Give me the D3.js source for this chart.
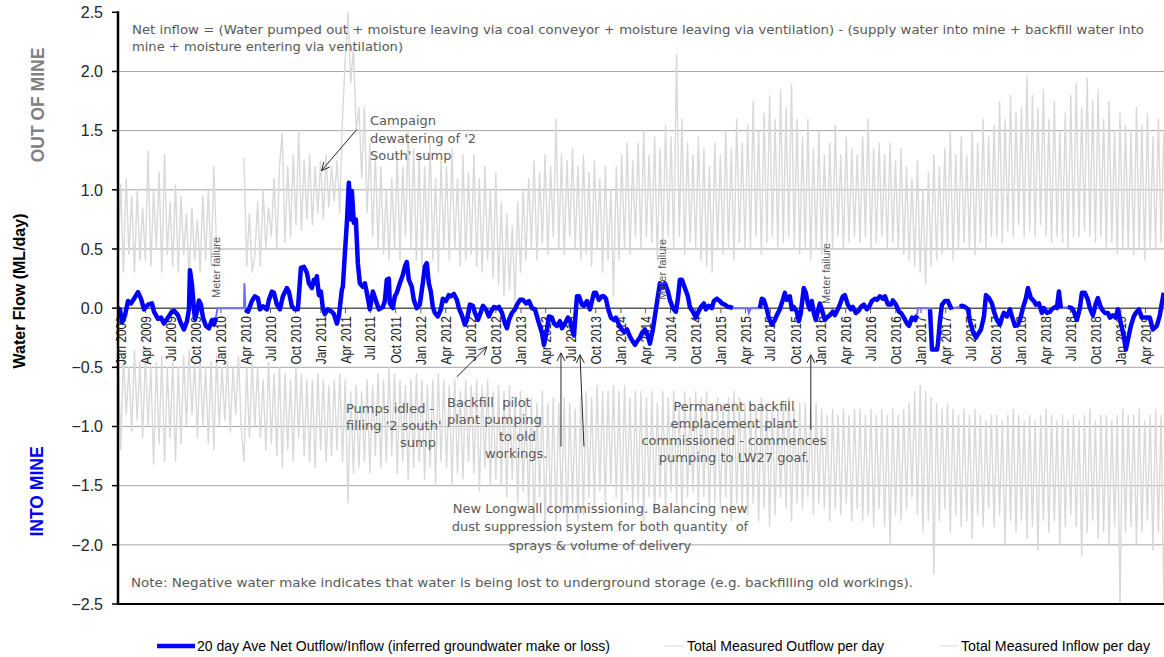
<!DOCTYPE html>
<html><head><meta charset="utf-8">
<script src="https://cdn.jsdelivr.net/npm/d3@7"></script>
<style>body{margin:0;background:#fff}svg{display:block}</style>
</head><body>
<svg id="chart" width="1164" height="657"></svg>
<script>
// ---------------- DATA ----------------
const yTickValues = [-2.5, -2.0, -1.5, -1.0, -0.5, 0.0, 0.5, 1.0, 1.5, 2.0, 2.5];
const xTickFirst = "2009-01-01";
const xTickLast = "2019-04-01";
const xTickMonths = 3;

// gray daily-measurement series, sampled every 10 days from the first date
const measuredStart = "2008-12-21";
const measuredStepDays = 10;
const outflowPerDay = [
 0.35,1.05,0.3,1.1,0.45,0.95,0.3,1.0,0.4,0.85,
 0.4,1.33,0.35,1.0,0.5,1.15,0.3,1.3,0.45,0.9,
 0.35,1.05,0.3,0.95,0.45,0.8,0.25,0.85,0.4,0.75,
 0.3,0.95,0.4,1.0,0.35,1.2,0.5,null,null,null,
 null,null,null,null,null,null,1.27,0.35,0.8,0.3,
 0.45,0.9,0.35,1.0,0.5,0.85,0.6,1.1,0.5,1.2,
 1.48,0.55,1.2,0.6,1.3,0.7,1.5,0.65,1.25,0.75,
 1.3,0.7,1.2,0.8,1.25,0.75,1.3,0.85,1.2,0.9,
 1.25,0.8,1.6,2.1,2.5,1.9,2.2,1.5,1.7,1.1,
 1.7,0.8,1.4,0.6,1.3,0.5,1.2,0.45,1.0,0.4,
 1.1,0.5,1.3,0.4,1.2,0.6,1.5,0.5,1.35,0.4,
 1.3,0.35,1.2,0.5,1.4,0.4,1.1,0.3,1.25,0.5,
 1.2,0.4,1.35,0.5,1.1,0.35,1.3,0.4,1.15,0.45,
 1.3,0.35,1.1,0.3,1.2,0.4,1.0,0.25,1.15,0.2,
 0.9,0.1,0.8,0.15,0.7,0.05,0.9,0.3,1.0,0.4,
 1.1,0.5,1.25,0.4,1.15,0.55,1.3,0.45,1.2,0.6,
 1.6,0.5,1.3,0.45,1.25,0.6,1.35,0.5,1.2,0.4,
 1.3,0.45,1.15,0.35,1.25,0.5,1.1,0.3,1.2,0.4,
 1.0,0.1,1.2,0.4,1.3,0.5,1.4,0.45,1.25,0.6,
 1.4,0.5,1.5,0.6,1.3,0.55,1.45,0.4,1.35,0.5,
 1.55,0.6,1.45,0.5,2.15,0.6,1.6,0.45,1.4,0.55,
 1.3,0.5,1.45,0.4,1.35,0.35,1.2,0.3,1.4,0.5,
 1.3,0.45,1.5,0.5,1.35,0.4,1.6,0.55,1.4,0.5,
 1.55,0.5,1.75,0.6,1.5,0.45,1.65,0.55,1.8,0.6,
 1.6,0.5,1.85,0.55,1.7,0.6,1.9,0.5,1.6,0.45,
 1.45,0.5,1.6,0.4,1.35,0.5,1.5,0.45,1.3,0.55,
 1.4,0.5,1.55,0.6,1.3,0.5,1.45,0.55,1.35,0.6,
 1.3,0.55,1.45,0.6,1.6,0.5,1.35,0.55,1.4,0.6,
 1.3,0.5,1.4,0.55,1.25,0.5,1.35,0.45,1.2,0.4,
 1.1,0.35,1.25,0.3,1.0,0.2,1.15,0.35,1.3,0.4,
 1.2,0.45,1.35,0.5,1.5,0.4,1.3,0.5,1.45,0.55,
 1.3,0.5,1.5,0.45,1.4,0.55,1.6,0.5,1.45,0.6,
 1.55,0.6,1.75,0.55,1.6,0.65,1.8,0.6,1.65,0.7,
 1.7,0.6,1.97,0.65,1.8,0.6,1.7,0.7,1.85,0.6,
 1.6,0.55,1.75,0.6,1.5,0.55,1.65,0.5,1.8,0.6,
 1.9,0.6,1.7,0.65,1.95,0.6,1.75,0.55,1.85,0.6,
 1.6,0.5,1.75,0.55,1.5,0.45,1.65,0.5,1.55,0.5,
 1.5,0.45,1.7,0.5,1.55,0.4,1.65,0.5,1.45,0.5,
 1.6,0.55,1.5,0.5
];
const inflowPerDay = [
 -0.3,-1.2,-0.4,-0.9,-0.5,-1.05,-0.35,-0.95,-0.45,-1.1,
 -0.4,-1.0,-0.5,-1.32,-0.45,-1.15,-0.4,-1.3,-0.5,-1.1,
 -0.45,-1.3,-0.5,-1.15,-0.4,-1.0,-0.35,-0.9,-0.45,-1.1,
 -0.4,-1.0,-0.5,-1.15,-0.45,-1.2,-0.4,-1.0,-0.5,-0.95,
 -0.45,-1.05,-0.5,-0.9,-0.4,-1.0,-1.3,-0.5,-1.1,-0.45,
 -1.0,-0.5,-1.1,-0.6,-1.2,-0.45,-1.15,-0.55,-1.25,-0.5,
 -1.35,-0.55,-1.2,-0.6,-1.3,-0.5,-1.1,-0.55,-1.25,-0.6,
 -1.3,-0.6,-1.35,-0.55,-1.2,-0.6,-1.3,-0.65,-1.25,-0.6,
 -1.2,-0.55,-1.3,-0.6,-1.65,-0.7,-1.4,-0.65,-1.35,-0.7,
 -1.3,-0.6,-1.4,-0.65,-1.25,-0.55,-1.35,-0.6,-1.3,-0.5,
 -1.25,-0.55,-1.4,-0.6,-1.3,-0.65,-1.45,-0.6,-1.35,-0.55,
 -1.3,-0.6,-1.45,-0.65,-1.35,-0.6,-1.5,-0.55,-1.3,-0.6,
 -1.35,-0.65,-1.5,-0.6,-1.4,-0.7,-1.45,-0.6,-1.3,-0.65,
 -1.4,-0.6,-1.55,-0.65,-1.35,-0.6,-1.5,-0.7,-1.45,-0.65,
 -1.5,-0.7,-1.6,-0.65,-1.45,-0.75,-1.65,-0.7,-1.55,-0.75,
 -1.7,-0.75,-1.85,-0.8,-1.6,-0.7,-1.9,-0.8,-1.75,-0.75,
 -1.85,-0.8,-1.7,-0.75,-1.9,-0.8,-1.65,-0.85,-1.8,-0.75,
 -1.75,-0.7,-1.6,-0.75,-1.7,-0.65,-1.55,-0.7,-1.65,-0.7,
 -1.5,-0.65,-1.6,-0.7,-1.75,-0.65,-1.55,-0.75,-1.7,-0.7,
 -1.65,-0.7,-1.8,-0.75,-1.6,-0.7,-1.75,-0.8,-1.6,-0.7,
 -1.7,-0.75,-1.55,-0.7,-1.65,-0.8,-1.75,-0.7,-1.6,-0.75,
 -1.55,-0.7,-1.7,-0.75,-1.6,-0.7,-1.75,-0.8,-1.65,-0.75,
 -1.7,-0.8,-1.6,-0.75,-1.8,-0.7,-1.65,-0.75,-1.7,-0.8,
 -1.75,-0.8,-1.65,-0.85,-1.8,-0.75,-1.7,-0.8,-1.85,-0.8,
 -1.75,-0.85,-1.6,-0.8,-1.7,-0.75,-1.8,-0.85,-1.65,-0.8,
 -1.7,-0.8,-1.6,-0.85,-1.75,-0.8,-1.65,-0.85,-1.7,-0.9,
 -1.8,-0.85,-1.7,-0.9,-1.75,-0.85,-1.65,-0.9,-1.8,-0.85,
 -1.7,-0.85,-1.8,-0.9,-1.75,-0.85,-1.85,-0.9,-1.7,-0.85,
 -1.85,-0.9,-2.0,-0.85,-1.75,-0.9,-1.8,-0.85,-1.7,-0.8,
 -1.6,-0.7,-1.75,-0.65,-1.9,-0.7,-1.8,-0.75,-2.25,-0.8,
 -1.8,-0.85,-1.7,-0.8,-1.9,-0.85,-1.75,-0.9,-1.85,-0.85,
 -1.8,-0.9,-1.95,-0.85,-1.75,-0.9,-1.85,-0.95,-1.7,-0.9,
 -1.85,-0.9,-1.75,-0.95,-2.0,-0.9,-1.8,-0.85,-1.9,-0.9,
 -1.8,-0.95,-1.95,-0.9,-1.85,-0.95,-2.05,-0.9,-1.8,-0.85,
 -1.9,-0.9,-1.8,-0.95,-2.0,-0.9,-1.85,-0.95,-1.75,-0.9,
 -1.85,-0.95,-2.1,-0.9,-1.9,-0.85,-1.8,-0.95,-1.95,-0.9,
 -1.9,-0.9,-2.0,-0.95,-1.85,-0.9,-2.5,-0.85,-1.9,-0.9,
 -1.85,-0.9,-2.0,-0.85,-1.9,-0.95,-1.8,-0.9,-2.05,-0.85,
 -1.9,-0.9,-2.5,-0.8
];

// 20-day average net outflow/inflow: [decimal year, ML/day]; null = no data
const netFlow = [
 [2008.97,0.0],[2008.99,-0.01],[2009.01,-0.12],[2009.04,-0.06],[2009.07,0.06],[2009.10,0.04],[2009.13,0.08],
 [2009.17,0.135],[2009.20,0.08],[2009.23,-0.01],[2009.27,0.03],[2009.31,0.04],[2009.33,-0.03],[2009.37,-0.09],
 [2009.40,-0.08],[2009.43,-0.13],[2009.47,-0.08],[2009.50,-0.04],[2009.53,-0.02],[2009.57,-0.06],[2009.60,-0.13],
 [2009.63,-0.18],[2009.66,-0.11],[2009.68,-0.01],[2009.69,0.32],[2009.71,0.20],[2009.73,-0.01],[2009.74,-0.09],
 [2009.76,-0.03],[2009.78,0.065],[2009.80,0.03],[2009.82,-0.08],[2009.85,-0.15],[2009.88,-0.17],[2009.91,-0.10],
 [2009.93,-0.14],[2009.95,-0.08],[2009.96,null],
 [2010.245,-0.01],[2010.27,-0.03],[2010.31,0.06],[2010.34,0.10],[2010.37,0.085],[2010.39,-0.01],[2010.42,0.015],
 [2010.46,-0.01],[2010.48,0.07],[2010.51,0.14],[2010.53,0.13],[2010.56,0.03],[2010.59,-0.01],[2010.62,0.10],
 [2010.66,0.17],[2010.68,0.14],[2010.71,0.015],[2010.74,-0.01],[2010.77,-0.01],[2010.80,0.34],[2010.83,0.35],
 [2010.86,0.30],[2010.88,0.21],[2010.91,0.17],[2010.93,0.24],[2010.95,0.21],[2010.96,0.27],[2010.98,0.11],
 [2011.00,0.14],[2011.02,0.0],[2011.04,-0.05],[2011.07,-0.01],[2011.11,-0.03],[2011.13,-0.05],[2011.16,-0.13],
 [2011.18,-0.07],[2011.21,0.155],[2011.22,0.18],[2011.24,0.46],[2011.26,0.72],[2011.28,1.06],[2011.30,0.75],
 [2011.31,0.99],[2011.33,0.72],[2011.35,0.75],[2011.37,0.38],[2011.39,0.21],[2011.42,0.18],[2011.44,0.21],
 [2011.46,0.13],[2011.49,-0.01],[2011.52,0.14],[2011.56,0.04],[2011.58,-0.01],[2011.62,0.01],[2011.64,0.06],
 [2011.66,0.24],[2011.68,0.25],[2011.69,0.04],[2011.72,0.0],[2011.74,0.10],[2011.76,0.13],[2011.79,0.21],
 [2011.82,0.28],[2011.84,0.35],[2011.86,0.39],[2011.88,0.24],[2011.91,0.18],[2011.93,0.07],[2011.96,0.0],
 [2011.99,0.03],[2012.02,0.21],[2012.04,0.35],[2012.06,0.38],[2012.08,0.21],[2012.10,0.14],[2012.12,0.01],
 [2012.14,-0.04],[2012.17,-0.07],[2012.20,-0.01],[2012.22,0.08],[2012.25,0.06],[2012.28,0.11],[2012.30,0.10],
 [2012.33,0.12],[2012.36,0.07],[2012.38,0.0],[2012.41,-0.06],[2012.44,-0.14],[2012.46,-0.10],[2012.49,0.03],
 [2012.52,0.02],[2012.54,-0.04],[2012.57,-0.10],[2012.60,-0.03],[2012.62,0.02],[2012.65,-0.01],[2012.68,-0.07],
 [2012.70,-0.03],[2012.73,0.01],[2012.76,0.0],[2012.78,0.01],[2012.81,-0.04],[2012.84,-0.13],[2012.86,-0.17],
 [2012.88,-0.10],[2012.91,-0.04],[2012.94,-0.01],[2012.96,0.03],[2012.99,0.07],[2013.02,0.07],[2013.05,0.04],
 [2013.08,0.06],[2013.11,0.0],[2013.14,-0.01],[2013.17,-0.10],[2013.21,-0.21],[2013.23,-0.31],[2013.26,-0.18],
 [2013.28,-0.07],[2013.31,-0.08],[2013.33,-0.13],[2013.36,-0.15],[2013.39,-0.11],[2013.41,-0.17],[2013.44,-0.13],
 [2013.47,-0.08],[2013.49,-0.10],[2013.51,-0.18],[2013.53,-0.23],[2013.56,0.10],[2013.58,0.10],[2013.61,0.03],
 [2013.63,0.02],[2013.66,0.06],[2013.69,-0.01],[2013.71,0.06],[2013.73,0.13],[2013.75,0.13],[2013.78,0.07],
 [2013.81,0.10],[2013.83,0.10],[2013.85,0.08],[2013.87,0.0],[2013.90,-0.08],[2013.93,-0.10],[2013.95,-0.08],
 [2013.98,-0.14],[2014.01,-0.18],[2014.03,-0.20],[2014.06,-0.18],[2014.09,-0.24],[2014.11,-0.27],[2014.14,-0.31],
 [2014.17,-0.27],[2014.19,-0.25],[2014.21,-0.21],[2014.24,-0.18],[2014.27,-0.23],[2014.29,-0.30],[2014.32,-0.18],
 [2014.35,-0.01],[2014.37,0.10],[2014.39,0.21],[2014.41,0.17],[2014.44,0.21],[2014.47,0.14],[2014.49,0.07],
 [2014.52,0.0],[2014.55,-0.03],[2014.57,0.08],[2014.59,0.24],[2014.61,0.24],[2014.64,0.17],[2014.67,0.10],
 [2014.69,0.01],[2014.72,-0.03],[2014.75,-0.08],[2014.77,-0.04],[2014.80,0.01],[2014.83,0.04],[2014.85,-0.01],
 [2014.88,0.02],[2014.91,0.0],[2014.93,0.06],[2014.96,0.08],[2014.99,0.06],[2015.01,0.04],[2015.04,0.03],
 [2015.07,0.01],[2015.09,0.01],[2015.12,0.0],[2015.13,null],
 [2015.39,0.0],[2015.41,0.08],[2015.43,0.07],[2015.46,-0.01],[2015.48,-0.08],[2015.51,-0.14],[2015.54,-0.10],
 [2015.56,-0.06],[2015.59,-0.01],[2015.62,0.07],[2015.64,0.13],[2015.66,0.07],[2015.69,0.10],[2015.71,-0.01],
 [2015.73,0.01],[2015.76,-0.03],[2015.78,-0.11],[2015.80,-0.04],[2015.82,0.10],[2015.83,0.17],[2015.85,0.13],
 [2015.87,0.04],[2015.89,-0.01],[2015.91,0.06],[2015.93,-0.04],[2015.95,-0.10],[2015.97,-0.03],[2015.99,0.04],
 [2016.01,-0.01],[2016.04,-0.10],[2016.06,-0.08],[2016.09,-0.06],[2016.12,-0.03],[2016.14,-0.06],[2016.17,-0.01],
 [2016.19,0.03],[2016.22,0.10],[2016.24,0.11],[2016.27,0.03],[2016.30,-0.01],[2016.32,0.01],[2016.35,-0.04],
 [2016.38,-0.02],[2016.40,0.01],[2016.43,0.03],[2016.46,-0.01],[2016.48,0.01],[2016.51,0.06],[2016.54,0.08],
 [2016.56,0.07],[2016.59,0.10],[2016.62,0.08],[2016.64,0.10],[2016.67,0.03],[2016.70,0.03],[2016.72,0.065],
 [2016.75,0.03],[2016.78,-0.03],[2016.80,-0.04],[2016.83,-0.08],[2016.86,-0.13],[2016.88,-0.15],[2016.91,-0.08],
 [2016.94,-0.10],[2016.96,-0.06],[2016.97,null],
 [2017.09,-0.01],[2017.11,-0.35],[2017.16,-0.35],[2017.17,-0.30],[2017.19,-0.10],[2017.21,0.03],[2017.24,0.06],
 [2017.27,0.06],[2017.29,0.02],[2017.31,-0.01],[2017.32,null],
 [2017.39,0.01],[2017.41,0.02],[2017.44,0.01],[2017.47,-0.01],[2017.49,-0.11],[2017.52,-0.20],[2017.55,-0.25],
 [2017.57,-0.22],[2017.60,-0.18],[2017.63,-0.07],[2017.65,0.11],[2017.68,0.085],[2017.71,0.04],[2017.73,-0.03],
 [2017.76,-0.10],[2017.79,-0.14],[2017.81,-0.08],[2017.83,-0.04],[2017.86,-0.07],[2017.89,-0.01],[2017.91,-0.07],
 [2017.94,-0.15],[2017.97,-0.14],[2017.99,-0.10],[2018.02,0.0],[2018.05,0.085],[2018.07,0.17],[2018.10,0.085],
 [2018.13,0.06],[2018.15,0.03],[2018.18,0.04],[2018.21,-0.04],[2018.23,0.0],[2018.26,-0.04],[2018.29,-0.03],
 [2018.31,-0.01],[2018.34,0.01],[2018.36,0.0],[2018.38,0.14],[2018.40,0.0],[2018.41,null],
 [2018.47,0.01],[2018.51,0.0],[2018.53,-0.03],[2018.56,-0.10],[2018.59,0.0],[2018.61,0.13],[2018.64,0.13],
 [2018.67,0.07],[2018.69,0.0],[2018.72,-0.06],[2018.75,0.04],[2018.77,0.085],[2018.79,0.03],[2018.81,-0.01],
 [2018.84,-0.04],[2018.87,-0.04],[2018.89,-0.08],[2018.92,-0.06],[2018.95,-0.08],[2018.97,-0.01],[2019.00,-0.13],
 [2019.03,-0.24],[2019.05,-0.35],[2019.07,-0.27],[2019.10,-0.15],[2019.13,-0.07],[2019.15,-0.04],[2019.18,-0.01],
 [2019.21,-0.08],[2019.26,-0.08],[2019.29,-0.08],[2019.32,-0.18],[2019.36,-0.15],[2019.39,-0.06],[2019.41,0.04],
 [2019.43,0.13]
];
// thin segments drawn where the 20-day average is missing (meter failures)
const netGapFlow = [
 [2009.95,-0.08],[2009.965,0.0],[2010.23,0.0],[2010.235,0.21],[2010.245,-0.01], null,
 [2015.12,0.0],[2015.27,0.0],[2015.28,-0.04],[2015.30,0.0],[2015.39,0.0], null,
 [2016.96,-0.06],[2016.97,0.0],[2017.08,0.0],[2017.09,-0.01], null,
 [2017.31,-0.01],[2017.32,0.0],[2017.39,0.01], null,
 [2018.40,0.0],[2018.47,0.01]
];

const legendLabels = [
 "20 day Ave Net Outflow/Inflow (inferred groundwater make or loss)",
 "Total Measured Outflow per day",
 "Total Measured Inflow per day"
];

// ---------------- LAYOUT ----------------
const W = 1164, H = 657;
const plot = {left: 118, top: 12.3, bottom: 604, right: 1167.4};
const svg = d3.select("#chart");
const parse = d3.timeParse("%Y-%m-%d");
const yearToDate = y => {
  const yr = Math.floor(y), a = new Date(yr, 0, 1), b = new Date(yr + 1, 0, 1);
  return new Date(+a + (y - yr) * (b - a));
};

const x = d3.scaleTime().domain([new Date(2008, 11, 21), new Date(2019, 5, 20)]).range([plot.left, plot.right]);
const y = d3.scaleLinear().domain([-2.5, 2.5]).range([plot.bottom, plot.top]);

svg.append("defs").append("clipPath").attr("id", "clip")
  .append("rect").attr("x", plot.left).attr("y", plot.top - 1).attr("width", W - plot.left).attr("height", plot.bottom - plot.top + 1);

// gridlines
svg.append("g").selectAll("line").data(yTickValues.filter(v => v > -2.5 && v < 2.5 && v !== 0)).join("line")
  .attr("x1", plot.left).attr("x2", W).attr("y1", d => y(d)).attr("y2", d => y(d))
  .attr("stroke", "#a6a6a6").attr("stroke-width", 1);

// gray measured series
const start = parse(measuredStart);
const daily = arr => arr.map((v, i) => [d3.timeDay.offset(start, i * measuredStepDays), v]);
const grayLine = d3.line().defined(d => d[1] !== null).x(d => x(d[0])).y(d => y(d[1]));
const gG = svg.append("g").attr("clip-path", "url(#clip)");
gG.append("path").attr("d", grayLine(daily(outflowPerDay))).attr("fill", "none").attr("stroke", "#d9d9d9").attr("stroke-width", 1.4);
gG.append("path").attr("d", grayLine(daily(inflowPerDay))).attr("fill", "none").attr("stroke", "#d9d9d9").attr("stroke-width", 1.4);

// zero line (category axis)
svg.append("line").attr("x1", plot.left).attr("x2", W).attr("y1", y(0)).attr("y2", y(0))
  .attr("stroke", "#595959").attr("stroke-width", 1.5);

// x ticks & labels at zero line
const xTicks = d3.timeMonth.every(xTickMonths).range(parse(xTickFirst), d3.timeDay.offset(parse(xTickLast), 1));
const fmt = d3.timeFormat("%b %Y");
const xa = svg.append("g");
xa.selectAll("line").data(xTicks).join("line")
  .attr("x1", d => x(d)).attr("x2", d => x(d)).attr("y1", y(0)).attr("y2", y(0) + 5)
  .attr("stroke", "#595959").attr("stroke-width", 1);
xa.selectAll("text").data(xTicks).join("text")
  .attr("transform", d => `translate(${x(d)},${y(0) + 8}) rotate(-90)`)
  .attr("text-anchor", "end").attr("dy", "0.36em")
  .attr("font-family", "'Liberation Sans', Arial, sans-serif").attr("font-size", 14).attr("fill", "#1a1a1a")
  .text(d => fmt(d))
  .each(function () { const w = this.getComputedTextLength(); d3.select(this).attr("textLength", w * 0.85).attr("lengthAdjust", "spacingAndGlyphs"); });

// blue net line
const netLine = d3.line().defined(d => d !== null && d[1] !== null).x(d => x(yearToDate(d[0]))).y(d => y(d[1]));
const gB = svg.append("g").attr("clip-path", "url(#clip)");
gB.append("path").attr("d", netLine(netGapFlow)).attr("fill", "none").attr("stroke", "#6f6fff").attr("stroke-width", 2);
gB.append("path").attr("d", netLine(netFlow)).attr("fill", "none").attr("stroke", "#0000ff").attr("stroke-width", 4.5)
  .attr("stroke-linejoin", "round");

// axes
svg.append("line").attr("x1", plot.left).attr("x2", W).attr("y1", plot.bottom).attr("y2", plot.bottom).attr("stroke", "#000").attr("stroke-width", 2);
svg.append("line").attr("x1", plot.left).attr("x2", plot.left).attr("y1", plot.top - 1).attr("y2", plot.bottom + 1).attr("stroke", "#000").attr("stroke-width", 2.5);
const ya = svg.append("g");
ya.selectAll("line").data(yTickValues).join("line")
  .attr("x1", plot.left - 6).attr("x2", plot.left).attr("y1", d => y(d)).attr("y2", d => y(d)).attr("stroke", "#000").attr("stroke-width", 1.5);
ya.selectAll("text").data(yTickValues).join("text")
  .attr("x", 103).attr("y", d => y(d)).attr("dy", "0.36em").attr("text-anchor", "end")
  .attr("font-family", "'Liberation Sans', Arial, sans-serif").attr("font-size", 16).attr("fill", "#262626")
  .text(d => d3.format(".1f")(d));

// axis titles
const vText = (cx, cy, txt, size, fill) => svg.append("text")
  .attr("transform", `translate(${cx},${cy}) rotate(-90)`).attr("text-anchor", "middle").attr("dy", "0.36em")
  .attr("font-family", "'Liberation Sans', Arial, sans-serif").attr("font-weight", "bold")
  .attr("font-size", size).attr("fill", fill).text(txt);
vText(19, 291, "Water Flow (ML/day)", 16, "#000");
vText(37.5, 105, "OUT OF MINE", 17.5, "#808080");
vText(37, 491.5, "INTO MINE", 17.5, "#0000ff");

// annotations
const annFont = "'DejaVu Sans', Verdana, sans-serif";
const ann = svg.append("g").attr("font-family", annFont).attr("fill", "#595959");
const lines = (x0, ys, txts, size, anchor, lens) => txts.forEach((t, i) => {
  const el = ann.append("text").attr("x", x0).attr("y", ys[i]).attr("dy", "0.36em")
    .attr("font-size", size).attr("text-anchor", anchor || "start").text(t);
  if (lens && lens[i]) el.attr("textLength", lens[i]).attr("lengthAdjust", "spacingAndGlyphs");
});
lines(132, [30, 46.5], ["Net inflow = (Water pumped out + moisture leaving via coal conveyor + moisture leaving via ventilation) - (supply water into mine + backfill water into", "mine + moisture entering via ventilation)"], 11.6, "start", [1012, 271]);
lines(131, [583], ["Note: Negative water make indicates that water is being lost to underground storage (e.g. backfilling old workings)."], 11.6, "start", [782]);
lines(370, [120, 138, 155], ["Campaign", "dewatering of '2", "South' sump"], 13, "start");
lines(346, [408, 425], ["Pumps idled -", "filling '2 south'"], 13, "start");
lines(400, [442], ["sump"], 13, "start");
lines(447, [402, 419], ["Backfill\u00a0\u00a0pilot", "plant pumping"], 13, "start");
lines(499, [436], ["to old"], 13, "start");
lines(485, [453], ["workings."], 13, "start");
lines(600, [508, 526, 545], ["New Longwall commissioning. Balancing new", "dust suppression system for both quantity\u00a0\u00a0of", "sprays & volume of delivery"], 13, "middle");
lines(734, [406, 423, 440, 457], ["Permanent backfill", "emplacement plant", "commissioned - commences", "pumping to LW27 goaf."], 13, "middle");

// meter failure labels
const mf = (cx, yb) => svg.append("text").attr("transform", `translate(${cx},${yb}) rotate(-90)`)
  .attr("dy", "0.36em").attr("font-family", "'Liberation Sans', Arial, sans-serif").attr("font-size", 11)
  .attr("fill", "#595959").text("Meter failure");
mf(216.5, 298); mf(662.5, 300); mf(826.5, 304);

// arrows (in data coordinates: decimal year, ML/day)
const arrows = [
 [2011.36, 1.51, 2011.007, 1.162],
 [2012.36, -0.58, 2012.66, -0.327],
 [2013.40, -1.17, 2013.40, -0.378],
 [2013.63, -1.17, 2013.59, -0.394],
 [2015.90, -1.028, 2015.90, -0.394]
];
const ag = svg.append("g").attr("stroke", "#262626").attr("stroke-width", 1).attr("fill", "none");
arrows.forEach(a => {
  const x1 = x(yearToDate(a[0])), y1 = y(a[1]), x2 = x(yearToDate(a[2])), y2 = y(a[3]);
  ag.append("line").attr("x1", x1).attr("y1", y1).attr("x2", x2).attr("y2", y2);
  const ang = Math.atan2(y2 - y1, x2 - x1), L = 9, s = 0.45;
  ag.append("path").attr("d", `M${x2 - L * Math.cos(ang - s)},${y2 - L * Math.sin(ang - s)}L${x2},${y2}L${x2 - L * Math.cos(ang + s)},${y2 - L * Math.sin(ang + s)}`);
});

// legend
const lg = svg.append("g").attr("font-family", "'Liberation Sans', Arial, sans-serif").attr("font-size", 14).attr("fill", "#000");
const legendItems = [
 {x1: 157, x2: 195, tx: 197, tw: 413, color: "#0000ff", sw: 4.5},
 {x1: 665, x2: 684, tx: 687, tw: 197, color: "#d9d9d9", sw: 1},
 {x1: 940, x2: 958, tx: 961, tw: 189, color: "#d9d9d9", sw: 1}
];
legendItems.forEach((it, i) => {
  lg.append("line").attr("x1", it.x1).attr("x2", it.x2).attr("y1", 646).attr("y2", 646).attr("stroke", it.color).attr("stroke-width", it.sw);
  lg.append("text").attr("x", it.tx).attr("y", 646).attr("dy", "0.36em").attr("textLength", it.tw).attr("lengthAdjust", "spacingAndGlyphs").text(legendLabels[i]);
});
</script>
</body></html>
